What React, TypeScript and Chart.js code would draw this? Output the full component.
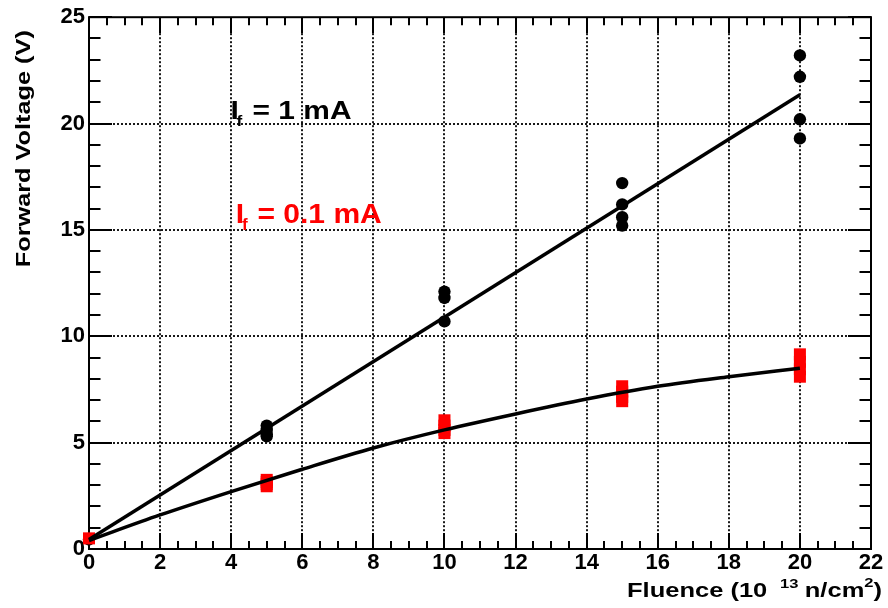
import { useEffect, useRef } from "react";
import { Chart, registerables } from "chart.js";

Chart.register(...registerables);

// ---- data ----
const fluenceLevels = [0, 5, 10, 15, 20];
const vf1mA = [
  [0.45],
  [5.8, 5.6, 5.4, 5.3],
  [12.1, 11.8, 10.7],
  [17.2, 16.2, 15.6, 15.2],
  [23.2, 22.2, 20.2, 19.3],
];
const vf01mA = [
  [0.5],
  [3.25, 3.15, 3.05, 2.95],
  [6.05, 5.8, 5.6, 5.45],
  [7.65, 7.4, 7.15, 6.95],
  [9.15, 8.8, 8.45, 8.1],
];
const fit1mAX = [0, 20];
const fit1mAY = [0.45, 21.35];
const fit01mAX = [0, 2, 4, 6, 8, 10, 12, 14, 16, 18, 20];
const fit01mAY = [0.4, 1.6, 2.7, 3.75, 4.75, 5.6, 6.35, 7.05, 7.65, 8.1, 8.5];

const xMajorTicks = [0, 2, 4, 6, 8, 10, 12, 14, 16, 18, 20, 22];
const yMajorTicks = [0, 5, 10, 15, 20, 25];
const xMinorStep = 0.5;
const yMinorStep = 1;

const label1 = { main: "I", sub: "f", rest: "= 1 mA", x: 3.98, y: 20.2 };
const label2 = { main: "I", sub: "f", rest: "= 0.1 mA", x: 4.13, y: 15.32 };
const xTitleParts = ["Fluence (10", "13", "n/cm", "2", ")"];
const yTitle = "Forward Voltage (V)";

const FONT = "'Liberation Sans', Arial, Helvetica, sans-serif";

function toPoints(levels: number[], groups: number[][]) {
  const pts: { x: number; y: number }[] = [];
  groups.forEach((g, i) => g.forEach((v) => pts.push({ x: levels[i], y: v })));
  return pts;
}
function zipXY(xs: number[], ys: number[]) {
  return xs.map((x, i) => ({ x, y: ys[i] }));
}

type Part = { text: string; size: number; dy?: number; gap?: number };
function drawRich(ctx: CanvasRenderingContext2D, parts: Part[], x: number, baseline: number, target: number, color: string) {
  let total = 0;
  for (const p of parts) {
    ctx.font = `bold ${p.size}px ${FONT}`;
    total += (p.gap || 0) + ctx.measureText(p.text).width;
  }
  const s = target ? target / total : 1;
  ctx.save();
  ctx.fillStyle = color;
  ctx.textAlign = "left";
  ctx.textBaseline = "alphabetic";
  ctx.translate(x, baseline);
  ctx.scale(s, 1);
  let cx = 0;
  for (const p of parts) {
    cx += p.gap || 0;
    ctx.font = `bold ${p.size}px ${FONT}`;
    ctx.fillText(p.text, cx, p.dy || 0);
    cx += ctx.measureText(p.text).width;
  }
  ctx.restore();
}

const rootFrame = {
  id: "rootFrame",
  beforeDatasetsDraw(chart: any) {
    const { ctx, chartArea: a, scales } = chart;
    const x = scales.x;
    const y = scales.y;
    ctx.save();
    // dotted grid
    ctx.strokeStyle = "#000";
    ctx.lineWidth = 1.8;
    ctx.setLineDash([2, 2]);
    for (const v of xMajorTicks) {
      if (v === x.min || v === x.max) continue;
      const px = Math.round(x.getPixelForValue(v));
      ctx.beginPath();
      ctx.moveTo(px, a.top);
      ctx.lineTo(px, a.bottom);
      ctx.stroke();
    }
    for (const v of yMajorTicks) {
      if (v === y.min || v === y.max) continue;
      const py = Math.round(y.getPixelForValue(v));
      ctx.beginPath();
      ctx.moveTo(a.left, py);
      ctx.lineTo(a.right, py);
      ctx.stroke();
    }
    ctx.setLineDash([]);
    ctx.lineWidth = 2;
    ctx.strokeRect(a.left, a.top, a.right - a.left, a.bottom - a.top);
    // ticks
    const xMaj = 16, xMin = 8, yMaj = 23, yMin = 11.5;
    ctx.beginPath();
    for (let v = x.min; v <= x.max + 1e-9; v += xMinorStep) {
      const major = xMajorTicks.some((t) => Math.abs(t - v) < 1e-6);
      const len = major ? xMaj : xMin;
      const px = Math.round(x.getPixelForValue(v));
      ctx.moveTo(px, a.bottom);
      ctx.lineTo(px, a.bottom - len);
      ctx.moveTo(px, a.top);
      ctx.lineTo(px, a.top + len);
    }
    for (let v = y.min; v <= y.max + 1e-9; v += yMinorStep) {
      const major = yMajorTicks.some((t) => Math.abs(t - v) < 1e-6);
      const len = major ? yMaj : yMin;
      const py = Math.round(y.getPixelForValue(v));
      ctx.moveTo(a.left, py);
      ctx.lineTo(a.left + len, py);
      ctx.moveTo(a.right, py);
      ctx.lineTo(a.right - len, py);
    }
    ctx.stroke();
    ctx.restore();
  },
  afterDraw(chart: any) {
    const { ctx, chartArea: a, scales } = chart;
    const x = scales.x;
    const y = scales.y;
    // annotations
    drawRich(
      ctx,
      [
        { text: label1.main, size: 26 },
        { text: label1.sub, size: 15, dy: 7, gap: -2 },
        { text: label1.rest, size: 26, gap: 9 },
      ],
      x.getPixelForValue(label1.x),
      y.getPixelForValue(label1.y),
      121,
      "#000"
    );
    drawRich(
      ctx,
      [
        { text: label2.main, size: 28 },
        { text: label2.sub, size: 16, dy: 7, gap: -2 },
        { text: label2.rest, size: 28, gap: 9 },
      ],
      x.getPixelForValue(label2.x),
      y.getPixelForValue(label2.y),
      146,
      "#ff0000"
    );
    // x title
    drawRich(
      ctx,
      [
        { text: xTitleParts[0], size: 20 },
        { text: xTitleParts[1], size: 13, dy: -9, gap: 10 },
        { text: xTitleParts[2], size: 20, gap: 5 },
        { text: xTitleParts[3], size: 13, dy: -10, gap: 0 },
        { text: xTitleParts[4], size: 20, gap: 0 },
      ],
      a.left + 538,
      a.bottom + 48,
      255,
      "#000"
    );
    // y title
    ctx.save();
    ctx.translate(30, a.top + 13);
    ctx.rotate(-Math.PI / 2);
    ctx.font = `bold 20px ${FONT}`;
    const w = ctx.measureText(yTitle).width;
    ctx.scale(237 / w, 1);
    ctx.textAlign = "right";
    ctx.textBaseline = "alphabetic";
    ctx.fillStyle = "#000";
    ctx.fillText(yTitle, 0, 0);
    ctx.restore();
  },
};

export default function App() {
  const ref = useRef<HTMLCanvasElement | null>(null);
  useEffect(() => {
    if (!ref.current) return;
    const chart = new Chart(ref.current, {
      type: "scatter",
      data: {
        datasets: [
          {
            label: "fit 1 mA",
            data: zipXY(fit1mAX, fit1mAY),
            showLine: true,
            borderColor: "#000",
            borderWidth: 3.5,
            pointRadius: 0,
            clip: false as any,
          },
          {
            label: "fit 0.1 mA",
            data: zipXY(fit01mAX, fit01mAY),
            showLine: true,
            borderColor: "#000",
            borderWidth: 3.5,
            pointRadius: 0,
            cubicInterpolationMode: "monotone",
            clip: false as any,
          },
          {
            label: "If = 0.1 mA",
            data: toPoints(fluenceLevels, vf01mA),
            pointStyle: "rect",
            pointRadius: 8.5,
            pointBorderWidth: 0,
            backgroundColor: "#ff0000",
            borderColor: "#ff0000",
            clip: false as any,
          },
          {
            label: "If = 1 mA",
            data: toPoints(fluenceLevels, vf1mA),
            pointStyle: "circle",
            pointRadius: 6.2,
            pointBorderWidth: 0,
            backgroundColor: "#000",
            borderColor: "#000",
            clip: false as any,
          },
        ],
      },
      options: {
        animation: false,
        responsive: true,
        maintainAspectRatio: false,
        layout: { padding: { top: 15, right: 17, left: 0, bottom: 0 } },
        plugins: { legend: { display: false }, tooltip: { enabled: false } },
        scales: {
          x: {
            type: "linear",
            min: 0,
            max: 22,
            grid: { display: false, drawTicks: false },
            border: { display: false },
            ticks: {
              stepSize: 2,
              autoSkip: false,
              maxRotation: 0,
              padding: 1,
              color: "#000",
              font: { family: FONT, size: 22, weight: "bold" },
            },
            afterFit: (s: any) => {
              s.height = 59;
            },
          },
          y: {
            type: "linear",
            min: 0,
            max: 25,
            grid: { display: false, drawTicks: false },
            border: { display: false },
            ticks: {
              stepSize: 5,
              padding: 4,
              color: "#000",
              font: { family: FONT, size: 22, weight: "bold" },
            },
            afterFit: (s: any) => {
              s.width = 89;
            },
          },
        },
      },
      plugins: [rootFrame],
    });
    return () => chart.destroy();
  }, []);
  return (
    <div style={{ position: "fixed", left: 0, top: 0, width: 888, height: 608, background: "#fff" }}>
      <canvas ref={ref} />
    </div>
  );
}
